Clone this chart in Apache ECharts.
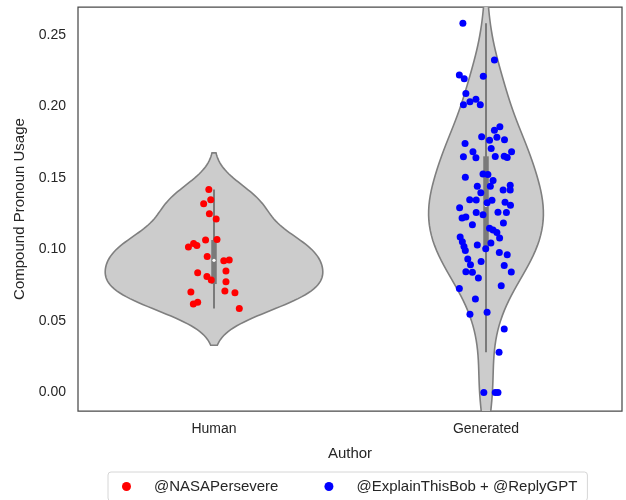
<!DOCTYPE html>
<html>
<head>
<meta charset="utf-8">
<script src="https://cdn.jsdelivr.net/npm/echarts@6/dist/echarts.min.js"></script>
<style>
  html, body { margin: 0; padding: 0; background: #ffffff; }
  #chart { width: 626px; height: 500px; }
</style>
</head>
<body>
<div id="chart"></div>
<script>
// ---- data -------------------------------------------------------------
const categories = ['Human', 'Generated'];
const seriesNames = ['@NASAPersevere', '@ExplainThisBob + @ReplyGPT'];
const seriesColors = ['#ff0000', '#0000ff'];
const yTicks = [0, 0.05, 0.10, 0.15, 0.20, 0.25];

const humanValues = [
  0.1420, 0.1348, 0.1320, 0.1250, 0.1213, 0.1066, 0.1070, 0.1017,
  0.1043, 0.1029, 0.0952, 0.0922, 0.0927, 0.0850, 0.0838, 0.0812,
  0.0787, 0.0775, 0.0710, 0.0698, 0.0703, 0.0631, 0.0619, 0.0587
];
// horizontal strip offsets, in category widths
const humanJitter = [
  -0.019, -0.012, -0.038, -0.017, 0.008, -0.031, 0.011, -0.094,
  -0.075, -0.063, -0.025, 0.036, 0.056, 0.044, -0.060, -0.026,
  -0.010, 0.044, 0.040, 0.077, -0.085, -0.060, -0.076, 0.093
];

const generatedValues = [
  0.2582, 0.2325, 0.2221, 0.2195, 0.2212, 0.2091, 0.2013, 0.2034, 0.2051, 0.2013,
  0.1858, 0.1835, 0.1788, 0.1786, 0.1765, 0.1767, 0.1741, 0.1706, 0.1683, 0.1683,
  0.1649, 0.1642, 0.1650, 0.1652, 0.1643, 0.1506, 0.1528, 0.1524, 0.1482, 0.1443,
  0.1443, 0.1397, 0.1450, 0.1416, 0.1416, 0.1348, 0.1346, 0.1327, 0.1344, 0.1330,
  0.1309, 0.1292, 0.1220, 0.1227, 0.1259, 0.1243, 0.1260, 0.1259, 0.1173, 0.1185,
  0.1149, 0.1136, 0.1119, 0.1080, 0.1087, 0.1054, 0.1022, 0.1031, 0.1006, 0.1045,
  0.0993, 0.0980, 0.0964, 0.0934, 0.0917, 0.0894, 0.0888, 0.0845, 0.0841, 0.0843,
  0.0801, 0.0728, 0.0746, 0.0654, 0.0547, 0.0561, 0.0445, 0.0281, 0.0000, 0.0000,
  0.0000
];
const generatedJitter = [
  -0.085, 0.031, -0.098, -0.080, -0.010, -0.074, -0.083, -0.059, -0.037, -0.021,
  0.051, 0.031, -0.016, 0.040, 0.013, 0.068, -0.077, 0.019, -0.048, 0.094,
  -0.083, -0.037, 0.034, 0.067, 0.078, -0.076, -0.011, 0.007, 0.026, -0.032,
  0.016, -0.019, 0.089, 0.063, 0.089, -0.060, -0.036, 0.004, 0.022, 0.070,
  0.090, -0.097, -0.088, -0.074, -0.036, -0.011, 0.044, 0.075, -0.050, 0.064,
  0.013, 0.026, 0.040, 0.050, -0.095, -0.087, -0.081, -0.032, -0.001, 0.018,
  -0.076, 0.049, 0.078, -0.067, -0.018, -0.057, 0.067, -0.074, -0.050, 0.093,
  -0.028, -0.098, 0.056, -0.039, -0.059, 0.004, 0.067, 0.048, -0.008, 0.034,
  0.044
];

const groups = [humanValues, generatedValues];
const jitters = [humanJitter, generatedJitter];

// ---- statistics ---------------------------------------------------------
function quantile(sorted, q) {
  const pos = (sorted.length - 1) * q;
  const lo = Math.floor(pos), hi = Math.ceil(pos);
  return sorted[lo] + (sorted[hi] - sorted[lo]) * (pos - lo);
}

function boxStats(values) {
  const s = values.slice().sort((a, b) => a - b);
  const q1 = quantile(s, 0.25), q3 = quantile(s, 0.75), med = quantile(s, 0.5);
  const fence = 1.5 * (q3 - q1);
  const inside = s.filter(v => v >= q1 - fence && v <= q3 + fence);
  return { q1, q3, med, lo: inside[0], hi: inside[inside.length - 1] };
}

// Gaussian kernel density, Scott bandwidth, evaluated out to 2 bandwidths
function density(values, gridSize) {
  const n = values.length;
  const mean = values.reduce((a, b) => a + b, 0) / n;
  const sd = Math.sqrt(values.reduce((a, v) => a + (v - mean) * (v - mean), 0) / (n - 1));
  const bw = sd * Math.pow(n, -0.2);
  const lo = Math.min(...values) - 2 * bw, hi = Math.max(...values) + 2 * bw;
  const norm = 1 / (n * bw * Math.sqrt(2 * Math.PI));
  const out = [];
  for (let k = 0; k < gridSize; k++) {
    const y = lo + (hi - lo) * k / (gridSize - 1);
    let d = 0;
    for (const v of values) { const z = (y - v) / bw; d += Math.exp(-0.5 * z * z); }
    out.push([y, d * norm]);
  }
  return out;
}

const profiles = groups.map(g => density(g, 100));
const stats = groups.map(boxStats);
const peak = Math.max(...profiles.map(p => Math.max(...p.map(r => r[1]))));
const halfWidth = 0.4;

// ---- chart --------------------------------------------------------------
const font = "'Liberation Sans', Arial, sans-serif";
const textColor = '#262626';
const chart = echarts.init(document.getElementById('chart'), null, { renderer: 'canvas' });

function renderViolin(params, api) {
  const i = params.dataIndex;
  const left = [], right = [];
  for (const [y, d] of profiles[i]) {
    const w = halfWidth * d / peak;
    left.push(api.coord([i - w, y]));
    right.push(api.coord([i + w, y]));
  }
  const outline = left.concat(right.reverse());
  const st = stats[i];
  const cx = api.coord([i, 0])[0];
  const py = v => api.coord([i, v])[1];
  return {
    type: 'group',
    children: [
      { type: 'polygon', shape: { points: outline },
        style: { fill: '#cccccc', stroke: '#7f7f7f', lineWidth: 1.6 } },
      { type: 'line', shape: { x1: cx, y1: py(st.lo), x2: cx, y2: py(st.hi) },
        style: { stroke: '#7a7a7a', lineWidth: 2 } },
      { type: 'line', shape: { x1: cx, y1: py(st.q1), x2: cx, y2: py(st.q3) },
        style: { stroke: '#7a7a7a', lineWidth: 5.5 } },
      { type: 'circle', shape: { cx: cx, cy: py(st.med), r: 1.6 },
        style: { fill: '#ffffff' } }
    ]
  };
}

const option = {
  animation: false,
  backgroundColor: '#ffffff',
  textStyle: { fontFamily: font, color: textColor },
  grid: {
    left: 78, right: 4, top: 7, bottom: 89,
    show: true, borderColor: '#4a4a4a', borderWidth: 1.25, backgroundColor: 'transparent'
  },
  xAxis: [
    {
      type: 'category', data: categories, boundaryGap: true,
      axisLine: { show: false }, axisTick: { show: false }, splitLine: { show: false },
      axisLabel: { color: textColor, fontSize: 14, fontFamily: font, margin: 11 },
      name: 'Author', nameLocation: 'middle', nameGap: 35,
      nameTextStyle: { color: textColor, fontSize: 15, fontFamily: font }
    },
    { type: 'value', min: -0.5, max: 1.5, show: false }
  ],
  yAxis: {
    type: 'value', min: -0.0129, max: 0.2696,
    axisLine: { show: false }, axisTick: { show: false }, splitLine: { show: false },
    axisLabel: {
      customValues: yTicks, color: textColor, fontSize: 14, fontFamily: font, margin: 12,
      formatter: v => v.toFixed(2)
    },
    name: 'Compound Pronoun Usage', nameLocation: 'middle', nameGap: 48,
    nameTextStyle: { color: textColor, fontSize: 15, fontFamily: font }
  },
  legend: {
    data: seriesNames,
    left: 108, top: 472,
    orient: 'horizontal',
    icon: 'circle', itemWidth: 9, itemHeight: 9, itemGap: 46,
    padding: [7, 10, 7, 14],
    borderColor: '#d6d6d6', borderWidth: 1, borderRadius: 3,
    textStyle: { color: textColor, fontSize: 15, fontFamily: font, padding: [0, 0, 0, 18] }
  },
  series: [
    {
      type: 'custom', xAxisIndex: 1, yAxisIndex: 0, clip: true,
      renderItem: renderViolin,
      data: stats.map((s, i) => [i, s.med]),
      encode: { x: 0, y: 1 }, z: 1, silent: true
    },
    ...groups.map((g, gi) => ({
      type: 'scatter', name: seriesNames[gi], xAxisIndex: 1, yAxisIndex: 0,
      symbol: 'circle', symbolSize: 7,
      itemStyle: { color: seriesColors[gi], opacity: 1 },
      data: g.map((v, k) => [gi + jitters[gi][k], v]),
      z: 3
    }))
  ]
};
chart.setOption(option);
</script>
</body>
</html>
